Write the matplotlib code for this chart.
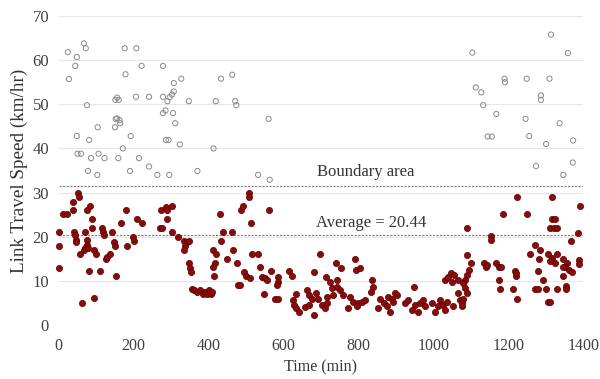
import matplotlib
matplotlib.use("Agg")
import matplotlib.pyplot as plt

# Free-flow (boundary) observations - open gray circles
gray_time = [24, 27, 44, 48, 67, 72, 75, 48, 50, 59, 81, 104, 86, 106, 122, 78, 103,
             150, 159, 171, 151, 156, 160, 152, 156, 162, 164, 176, 178, 192, 190, 207,
             206, 214, 221, 241, 241, 263, 278, 278, 278, 285, 290, 296, 302, 307, 307,
             327, 305, 311, 286, 293, 323, 295, 347, 370, 413, 419, 433, 463, 471, 474,
             532, 560, 563,
             1104, 1314, 1359, 1113, 1128, 1133, 1168, 1190, 1191, 1249, 1310, 1287,
             1287, 1246, 1337, 1145, 1156, 1256, 1301, 1373, 1274, 1372, 1347]
gray_speed = [61.8, 55.7, 58.7, 60.7, 63.8, 62.7, 49.8, 42.8, 38.8, 38.8, 41.9, 44.8,
              37.8, 38.8, 37.8, 34.9, 34.0, 44.8, 37.8, 40.0, 51.0, 51.5, 51.0, 46.7,
              46.8, 46.4, 45.7, 62.7, 56.8, 42.8, 34.9, 62.7, 51.7, 37.8, 58.7, 51.7,
              35.9, 34.0, 58.7, 51.7, 48.0, 48.6, 50.7, 51.6, 52.2, 52.9, 54.8, 55.8,
              48.0, 45.7, 41.9, 41.9, 40.9, 34.0, 50.7, 34.9, 40.0, 50.7, 55.8, 56.7,
              50.7, 49.8, 34.0, 46.7, 32.9,
              61.7, 65.8, 61.6, 53.8, 52.7, 49.8, 47.8, 55.8, 55.0, 55.8, 55.8, 52.0,
              51.0, 46.7, 45.7, 42.7, 42.7, 42.8, 41.0, 41.8, 36.0, 36.8, 34.0]

# Congested observations - filled dark red dots
red_time = [0, 0, 0, 12, 21, 38, 37, 50, 54, 40, 44, 47, 47, 56, 63, 69, 74, 74, 71, 68,
            77, 76, 83, 81, 89, 89, 94, 98, 94, 110, 114, 118, 121, 125, 130, 136, 142,
            148, 151, 152, 167, 179, 183, 197, 200, 208, 223, 270, 276, 272, 285, 289,
            303, 288, 303, 317, 335, 342, 338, 335, 347, 347, 350, 353, 355,
            360, 370, 378, 385, 390, 395, 400, 405, 410,
            508, 508, 486, 492, 430, 562, 512, 439, 463, 433, 412, 419, 466, 417, 411,
            450, 476, 415, 517, 532, 537, 495, 501, 510, 479, 484, 542, 550, 556, 566,
            547, 586, 586, 583, 577, 586, 615, 622, 633, 626, 629, 633, 642, 657, 667,
            662, 669, 675, 687, 693, 681, 681, 697, 702, 711, 717, 713,
            791, 739, 753, 793, 804, 715, 724, 729, 742, 742, 751, 733, 760, 777, 786,
            800, 809, 795, 818, 773, 835, 840, 834, 858, 853, 867, 880, 889, 898, 902,
            893, 876, 884, 947, 924, 933, 951, 964, 978, 942, 960, 973, 996, 1013, 1027,
            1036, 1005, 1031, 1053, 1018, 1031, 1040, 1049, 1047, 1056, 1067, 1067, 1071,
            1091, 1089, 1101, 1094, 1089, 1085, 1080, 1085, 1089, 1080, 1076, 1076, 1185,
            1223, 1249, 1316, 1392, 1316, 1325, 1312, 1321, 1330, 1154, 1154, 1387, 1368,
            1272, 1285, 1257, 1283, 1307, 1316, 1330, 1325, 1312, 1347, 1356, 1352, 1361,
            1370, 1347, 1390, 1390, 1134, 1141, 1144, 1167, 1174, 1180, 1218, 1221, 1221,
            1174, 1177, 1212, 1223, 1280, 1292, 1272, 1280, 1301, 1330, 1305, 1312, 1346,
            1355, 1355]
red_speed = [21, 18, 13, 25.1, 25.1, 26, 27.9, 29.8, 29.1, 21, 20.4, 19.3, 18.9, 16.1, 5,
             21, 19.3, 18.1, 17.4, 17.1, 17.4, 26, 27, 12.2, 23.9, 21.9, 17, 16.1, 6.1,
             12.2, 21.9, 21.1, 20.4, 15, 15.5, 16.1, 21, 18.9, 18, 11.1, 23, 26, 18, 20,
             19.1, 23.9, 23, 21.9, 21.9, 26, 26.8, 26, 27, 23.9, 21, 20, 19, 18.9, 18, 17,
             19, 14.1, 12.8, 12.1, 8.1,
             8, 7.5, 8, 7, 7.5, 7, 8, 7, 7.5,
             29.8, 28.9, 26, 27, 25.1, 26, 23, 21, 21, 19, 17, 16.1, 17.1, 14.1, 13.1, 15,
             14, 11.1, 16.1, 16.1, 13.1, 12.1, 11.1, 10.7, 9.1, 9, 10.9, 10.6, 10.2, 12.3,
             7, 10.9, 9.8, 9.1, 6, 6, 12.3, 11.1, 7, 5.7, 4.5, 3.8, 3, 4, 4.5, 7.9, 6.8,
             5.8, 7.2, 6, 2.3, 12.1, 16.1, 4.5, 3.8, 4.9, 10.9,
             15, 14.1, 13, 12.5, 13, 6.4, 9.8, 8.3, 10.2, 8.7, 7.9, 6.8, 6.8, 6.4, 5.3,
             4.9, 5.3, 4.2, 5.7, 3.8, 10.2, 8.7, 7.5, 6, 3.8, 4.9, 6.4, 6, 7.2, 6.8, 5.3,
             4.2, 3, 8.7, 4.9, 5.7, 4.5, 4.9, 4.2, 3.4, 3, 5.7, 4.9, 4.2, 4.5, 5.3, 3, 3.4,
             4.2, 5.7, 10.2, 10.9, 9.8, 11.7, 11.3, 10.2, 7.2, 5.7,
             21.9, 15.9, 14.1, 12.5, 11.3, 10.2, 9.4, 8.3, 7.2, 6, 4.9, 4.2, 25.1, 29.1,
             25.1, 29.1, 27, 23.9, 23.9, 21.9, 21.9, 21.9, 20.2, 19.3, 20.9, 19, 18.1,
             17.1, 16.1, 15, 16.1, 15.1, 16.1, 14.1, 14.4, 15, 14.1, 13.1, 12.5, 12.1,
             13.1, 14.7, 13.8, 14.1, 13.1, 13.6, 14.1, 13.1, 13.1, 12.3, 11.1, 11.7, 10.2,
             8.1, 8.1, 6, 12.3, 10.2, 8.1, 8.1, 8.1, 8.1, 5.1, 5.1, 11.1, 8.8, 8.1]

boundary_value = 31.5
average_value = 20.44
boundary_label = "Boundary area"
average_label = "Average = 20.44"
x_ticks = [0, 200, 400, 600, 800, 1000, 1200, 1400]
y_ticks = [0, 10, 20, 30, 40, 50, 60, 70]

plt.rcParams['font.family'] = ['Liberation Serif', 'DejaVu Serif']

fig = plt.figure(figsize=(6.0, 3.79), dpi=100)
ax = fig.add_axes([0.098, 0.1425, 0.874, 0.8153])

ax.set_xlim(0, 1400)
ax.set_ylim(0, 70)
ax.set_xticks(x_ticks)
ax.set_yticks(y_ticks)
ax.tick_params(length=0, colors='#404040')
ax.tick_params(axis='x', labelsize=11.5, pad=9.5)
ax.tick_params(axis='y', labelsize=12, pad=7)
for s in ax.spines.values():
    s.set_visible(False)
ax.grid(axis='y', color='#e6e6e6', linewidth=0.8)
ax.set_axisbelow(True)

ax.scatter(gray_time, gray_speed, s=14, facecolors='none', edgecolors='#8a8a8a',
           linewidths=0.7, clip_on=False, zorder=3)
ax.scatter(red_time, red_speed, s=20, color='#8b0a0a', edgecolors='#5a0000',
           linewidths=0.5, clip_on=False, zorder=3)

ax.axhline(boundary_value, color='#7f7f7f', linestyle=(0, (2, 1.2)), linewidth=0.8, zorder=2)
ax.axhline(average_value, color='#7f7f7f', linestyle=(0, (2, 1.2)), linewidth=0.8, zorder=2)

ax.text(688, 34.6, boundary_label, fontsize=12, color='#333333', va='center', ha='left')
ax.text(686, 23.1, average_label, fontsize=12, color='#333333', va='center', ha='left')

ax.set_xlabel("Time (min)", fontsize=11.5, color='#333333', labelpad=4)
ax.set_ylabel("Link Travel Speed (km/hr)", fontsize=13.8, color='#333333', labelpad=3)

fig.savefig("out.png", dpi=100)
